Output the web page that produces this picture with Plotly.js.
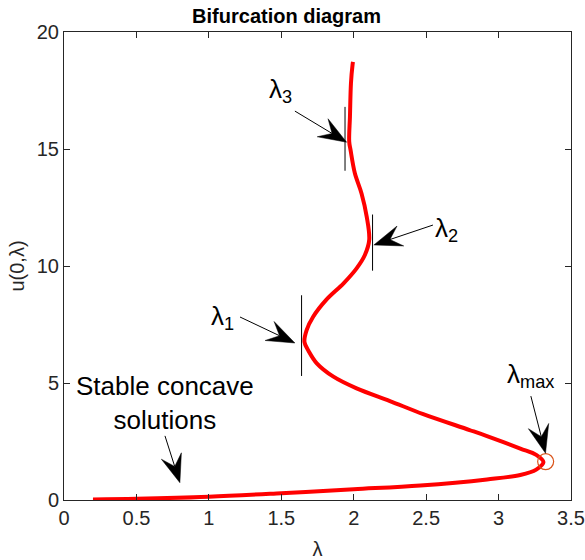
<!DOCTYPE html>
<html>
<head>
<meta charset="utf-8">
<script src="https://cdn.plot.ly/plotly-3.0.1.min.js"></script>
<style>html,body{margin:0;padding:0;background:#fff;}#chart{width:585px;height:560px;}</style>
</head>
<body>
<div id="chart"></div>
<script>
// Bifurcation curve (lambda, u(0,lambda))
const lambdaVals = [0.2, 0.5, 1.0, 1.5, 2.0, 2.46, 2.92, 3.15, 3.26, 3.31, 3.26, 3.15, 2.92, 2.80, 2.48, 2.25, 2.02, 1.86, 1.745, 1.69, 1.66, 1.675, 1.72, 1.81, 1.93, 2.02, 2.077, 2.107, 2.09, 2.054, 2.008, 1.978, 1.969, 1.974, 1.981, 1.992, 1.995];
const uVals      = [0.02, 0.05, 0.14, 0.29, 0.46, 0.62, 0.88, 1.07, 1.3, 1.62, 1.93, 2.2, 2.73, 2.99, 3.67, 4.23, 4.77, 5.27, 5.84, 6.35, 6.75, 7.26, 7.83, 8.55, 9.26, 9.9, 10.47, 11.11, 12.1, 13.1, 13.96, 14.96, 15.31, 16.38, 17.81, 18.6, 18.72];

// lambda_max point
const maxPoint = {lambda: 3.325, u: 1.64};

// Vertical marker lines at turning points
const markLambda = [1.64, 2.13, 1.94];
const markLow    = [5.3, 9.8, 14.07];
const markHigh   = [8.75, 12.2, 16.8];

// Labels and arrows
const labelTexts  = ['λ<sub>1</sub>', 'λ<sub>2</sub>', 'λ<sub>3</sub>', 'λ<sub>max</sub>', 'Stable concave<br>solutions'];
const labelX      = [1.097, 2.643, 1.4976, 3.223, 0.697];
const labelY      = [7.78, 11.58, 17.48, 5.3, 4.15];
const arrowTailX  = [1.215, 2.547, 1.594, 3.223, 0.697];
const arrowTailY  = [7.82, 11.75, 16.62, 4.44, 2.74];
const arrowTipX   = [1.594, 2.139, 1.951, 3.324, 0.80];
const arrowTipY   = [6.71, 10.9, 15.29, 2.0, 0.74];

const xTicks = [0, 0.5, 1, 1.5, 2, 2.5, 3, 3.5];
const yTicks = [0, 5, 10, 15, 20];

const FONT = 'Liberation Sans, Arial, Helvetica, sans-serif';
const AX = '#262626';
const W = 585, H = 560, M = {l: 64, r: 14, t: 32, b: 60};
const XR = [0, 3.5], YR = [0, 20];
// pixels per data unit (for arrowhead geometry only)
const sx = (W - M.l - M.r) / (XR[1] - XR[0]);
const sy = (H - M.t - M.b) / (YR[1] - YR[0]);

const traces = [];
for (let i = 0; i < markLambda.length; i++) {
  traces.push({x: [markLambda[i], markLambda[i]], y: [markLow[i], markHigh[i]], mode: 'lines',
    line: {color: '#000', width: 1}, hoverinfo: 'skip', showlegend: false});
}
traces.push({x: lambdaVals, y: uVals, mode: 'lines', line: {color: '#ff0000', width: 4, shape: 'spline', smoothing: 1},
  showlegend: false});
traces.push({x: [maxPoint.lambda], y: [maxPoint.u], mode: 'markers',
  marker: {symbol: 'circle-open', size: 16, color: '#D95319', line: {width: 1.2, color: '#D95319'}}, showlegend: false});

// MATLAB-like arrows (line + notched filled head), head size in pixels
const HEAD_L = 28, HEAD_HW = 10.5, NOTCH = 17;
const shapes = [];
const annotations = [];
for (let i = 0; i < labelTexts.length; i++) {
  const tx = arrowTipX[i] * sx, ty = -arrowTipY[i] * sy;
  const bx = arrowTailX[i] * sx, by = -arrowTailY[i] * sy;
  const len = Math.hypot(tx - bx, ty - by);
  const dx = (tx - bx) / len, dy = (ty - by) / len;
  const nx = -dy, ny = dx;
  const toData = (px, py) => (px / sx).toFixed(5) + ',' + (-py / sy).toFixed(5);
  const c1 = toData(tx - HEAD_L * dx + HEAD_HW * nx, ty - HEAD_L * dy + HEAD_HW * ny);
  const c2 = toData(tx - HEAD_L * dx - HEAD_HW * nx, ty - HEAD_L * dy - HEAD_HW * ny);
  const notch = toData(tx - NOTCH * dx, ty - NOTCH * dy);
  const tip = toData(tx, ty);
  shapes.push({type: 'path', xref: 'x', yref: 'y', path: 'M' + toData(bx, by) + 'L' + notch,
    line: {color: '#000', width: 1}});
  shapes.push({type: 'path', xref: 'x', yref: 'y', path: 'M' + tip + 'L' + c1 + 'L' + notch + 'L' + c2 + 'Z',
    fillcolor: '#000', line: {color: '#000', width: 0.5}});
  annotations.push({x: labelX[i], y: labelY[i], xref: 'x', yref: 'y', text: labelTexts[i], showarrow: false,
    xanchor: 'center', yanchor: 'middle', font: {family: FONT, size: 26, color: '#000'}});
}

const axisCommon = {
  showgrid: false, zeroline: false, showline: true, linecolor: AX, linewidth: 1,
  mirror: 'ticks', ticks: 'inside', ticklen: 6, tickwidth: 1, tickcolor: AX,
  tickfont: {family: FONT, size: 20, color: AX}
};

const layout = {
  width: W, height: H,
  margin: M,
  paper_bgcolor: '#fff', plot_bgcolor: '#fff',
  title: {text: '<b>Bifurcation diagram</b>', font: {family: FONT, size: 20, color: '#000'},
    xref: 'paper', x: 0.439, xanchor: 'center', yref: 'container', y: 0.972, yanchor: 'middle'},
  xaxis: Object.assign({}, axisCommon, {range: XR, tickvals: xTicks, ticktext: xTicks.map(String),
    title: {text: 'λ', font: {family: FONT, size: 20, color: AX}, standoff: 14}}),
  yaxis: Object.assign({}, axisCommon, {range: YR, tickvals: yTicks, ticktext: yTicks.map(String),
    title: {text: 'u(0,λ)', font: {family: FONT, size: 20, color: AX}, standoff: 6}}),
  shapes: shapes,
  annotations: annotations
};

Plotly.newPlot('chart', traces, layout, {displayModeBar: false, staticPlot: true});
</script>
</body>
</html>
